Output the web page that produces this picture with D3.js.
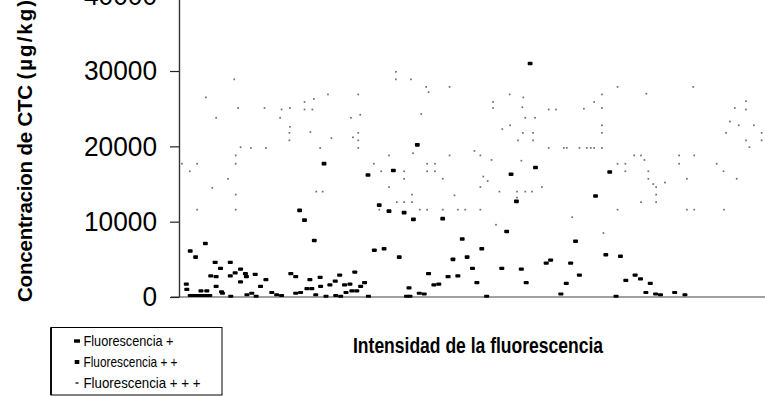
<!DOCTYPE html>
<html>
<head>
<meta charset="utf-8">
<script src="https://cdn.jsdelivr.net/npm/d3@7"></script>
<style>
  html, body { margin: 0; padding: 0; background: #fff; }
  svg { display: block; }
  text { font-family: "Liberation Sans", Arial, sans-serif; }
</style>
</head>
<body>
<script>
// ---------- DATA ----------
const seriesNames = ["Fluorescencia +", "Fluorescencia + +", "Fluorescencia + + +"];
const yTickValues = [0, 10000, 20000, 30000, 40000];
const yTitleParts = ["Concentracion de CTC ", "(µg/kg)"];
const xTitle = "Intensidad de la fluorescencia";

// Fluorescencia + : [sample position, concentration µg/kg]
const serie1 = [
  [1.5,1700],[1.6,1000],[2.3,200],[3.1,200],[3.9,200],[4.7,200],[5.5,200],[6.3,200],
  [4.5,800],[5.7,800],[7.4,4600],[8.5,3800],[6.5,2800],[7.6,2700],[7.6,1400],[8.7,700],
  [8.9,500],[10.5,4600],[10.5,2800],[11.5,3200],[12.6,3700],[13.6,3100],[13.8,2700],
  [12.6,2000],[10.6,100],[15.6,3000],[16.7,1400],[17.8,2300],[13.9,300],[14.9,500],
  [15.8,100],[19,600],[20,300],[21,200],[22.9,3100],[23.9,2700],[23.9,500],[24.9,600],
  [26.2,1100],[27.2,1100],[26.8,2300],[28.9,2600],[28,300],[29,1400],[30.1,100],
  [30.9,1600],[32,2100],[32.9,2900],[32.1,200],[33.1,100],[33.9,1600],[35,1700],
  [36,3300],[34.2,600],[35.4,800],[36.4,800],[37.2,1400],[38,1900],[38.8,100],
  [51.1,3100],[55.1,2700],[57.1,2800],[60.1,3800],[66.1,3800],[70.1,3700],[47.1,1200],
  [52.2,1600],[53.2,1700],[61,1900],[71.1,1900],[75.2,4500],[80.2,4500],[79.3,1800],
  [78.2,400],[46.6,100],[47.3,100],[49.2,500],[50.2,400],[63,100],[82,2900],[91.5,2200],
  [93.4,2900],[94.5,2400],[96.5,1800],[95.6,600],[97.6,400],[98.6,300],[101.5,600],
  [103.6,300],[89.5,100],[76.1,4900]
];

// Fluorescencia + +
const serie2 = [
  [2.3,6100],[3.4,5300],[5.4,7100],[24.7,11500],[25.7,10200],[27.7,7500],[29.7,17700],
  [38.7,16200],[71.9,31000],[48.8,20200],[43.9,16800],[68,16300],[73,17200],[41,12200],
  [43,11400],[46.1,11200],[48,10300],[54,10400],[69.1,12700],[67.1,8700],[58,7700],
  [40,6200],[42,6400],[45.1,5300],[62,6400],[56.1,5000],[59,5300],[81.2,7400],
  [88.2,16600],[85.3,13400],[87.4,5600],[90.4,5400]
];

// Fluorescencia + + +
const serie3 = [
  [11.3,28900],[5.5,26500],[7.6,23800],[12.1,25100],[17.5,25100],[20.7,23800],[21,24900],
  [22.7,25100],[22.7,22600],[22.6,21800],[22.6,20800],[25.7,25900],[25.7,24900],
  [27.6,26300],[27.3,24900],[30.5,26900],[26.9,21900],[31.2,21100],[28.9,19800],
  [35.2,23800],[36.7,26900],[37.1,24200],[35.6,21200],[36.7,21800],[36.7,20800],
  [36.7,19800],[12.6,19900],[14.7,19800],[17.8,19800],[11.6,18800],[11.6,17700],
  [3.7,17700],[0.6,17700],[2.2,16700],[10,15700],[6.8,14500],[11.6,13600],[3.7,11600],
  [11.6,11600],[28.1,14000],[29.4,14000],
  [44.4,29900],[44.4,28900],[47.5,28900],[50.6,27900],[51.1,27200],[55.4,27900],
  [49.6,24300],[43,18800],[47.9,19100],[55.4,18800],[39.9,17700],[41.4,16700],
  [46.1,16700],[50.8,17700],[52.4,17700],[50.8,16700],[52.4,16700],[46.1,15700],
  [54,15700],[43,14600],[47.7,13600],[44.6,12600],[46.1,12600],[47.7,12600],[41,11600],
  [49.3,11600],[50.8,11600],[54,11600],[57.1,11600],[58.6,11600],[61.7,11600],
  [56.4,13500],[60.5,19400],[61.7,18800],[64,18200],[62.3,16000],[63.2,15400],
  [61.7,14600],[65.6,14000],[69.2,14000],[70.9,14000],[72.3,14000],[74.3,14600],
  [69.2,13200],[64.9,9600],[64.3,25900],[64.3,25100],[67.7,26900],[70.3,25200],
  [70.5,26500],[70.9,23800],[72.9,23800],[66.2,22300],[67.8,22800],[70.4,21800],
  [72.5,21800],[69.4,20800],[72.5,20800],[70.1,18100],[75.7,24900],[77.2,24900],
  [75.7,19800],[78.8,19800],[79.4,19800],[82,19800],
  [89.8,27900],[105.3,27900],[95.7,27000],[86.6,26900],[85,25900],[82.9,25000],
  [86.6,25100],[86.6,22800],[86.6,21800],[83.5,19800],[84.3,19800],[85,19800],
  [86.6,19800],[93.2,18800],[94.6,18800],[95.3,18200],[102.4,18800],[105.5,18800],
  [89.8,17700],[91.4,17700],[102.4,17700],[110.1,17700],[91.4,16700],[96.1,16700],
  [111.5,16700],[96.1,15700],[104,15700],[114.2,15700],[97.1,15000],[97.7,14600],
  [99.5,15200],[97.7,13600],[94.6,12600],[97.7,12600],[89.8,11600],[104,11600],
  [105.5,11600],[111.6,11600],[86.9,8500],[116.1,26000],[113.8,25100],[116.1,24900],
  [112.8,23300],[114.6,22800],[117.7,22800],[112,21800],[119.3,21800],[116.1,20800],
  [119.3,20800],[116.8,19900],[80.5,10600]
];

// ---------- CHART ----------
const W = 765, H = 396;
const svg = d3.select("body").append("svg").attr("width", W).attr("height", H);

const x = d3.scaleLinear().domain([0, 120]).range([179, 765]);
const y = d3.scaleLinear().domain([0, 40000]).range([297, -4.3]);

// x axis line (extends a little left of the y axis)
svg.append("line")
  .attr("x1", x(0) - 8).attr("x2", x.range()[1])
  .attr("y1", y(0)).attr("y2", y(0))
  .attr("stroke", "#808080").attr("stroke-width", 1.6);

// y axis
const yAxis = svg.append("g")
  .attr("transform", `translate(${x(0)},0)`)
  .call(d3.axisLeft(y).tickValues(yTickValues).tickSize(9).tickSizeOuter(0).tickPadding(13)
        .tickFormat(d3.format("d")));
yAxis.select(".domain").attr("stroke", "#333").attr("stroke-width", 1.4);
yAxis.selectAll(".tick line").attr("stroke", "#222").attr("stroke-width", 1.2);
yAxis.selectAll(".tick text")
  .attr("fill", "#000")
  .style("font-size", "28px")
  .style("font-family", "'Liberation Sans', Arial, sans-serif")
  .attr("x", -22)
  .attr("textLength", function() { return this.textContent.length * 14.6; })
  .attr("lengthAdjust", "spacingAndGlyphs");

// points
const g = svg.append("g");
g.selectAll("rect.s3").data(serie3).enter().append("rect")
  .attr("class", "s3")
  .attr("x", d => x(d[0]) - 0.8).attr("y", d => y(d[1]) - 0.8)
  .attr("width", 1.7).attr("height", 1.7)
  .attr("fill", "#6e6e6e");
g.selectAll("rect.s1").data(serie1).enter().append("rect")
  .attr("class", "s1")
  .attr("x", d => x(d[0]) - 2.5).attr("y", d => y(d[1]) - 1.6)
  .attr("width", 5).attr("height", 3.2).attr("rx", 0.8)
  .attr("fill", "#000");
g.selectAll("rect.s2").data(serie2).enter().append("rect")
  .attr("class", "s2")
  .attr("x", d => x(d[0]) - 2.4).attr("y", d => y(d[1]) - 1.8)
  .attr("width", 4.8).attr("height", 3.6).attr("rx", 0.8)
  .attr("fill", "#000");

// y title
const yt = svg.append("text")
  .attr("transform", "translate(32,302) rotate(-90)")
  .attr("text-anchor", "start")
  .style("font-size", "20.5px").style("font-weight", "bold")
  .attr("fill", "#000");
yt.append("tspan").style("letter-spacing", "-0.2px").text(yTitleParts[0]);
yt.append("tspan").style("letter-spacing", "2px").text(yTitleParts[1]);

// x title
svg.append("text")
  .attr("x", 353).attr("y", 353)
  .style("font-size", "22px").style("font-weight", "bold")
  .attr("textLength", 250).attr("lengthAdjust", "spacingAndGlyphs")
  .attr("fill", "#000")
  .text(xTitle);

// legend
const lg = svg.append("g");
lg.append("rect")
  .attr("x", 51).attr("y", 327.5).attr("width", 171).attr("height", 67.5)
  .attr("fill", "#fff").attr("stroke", "#000").attr("stroke-width", 1);
lg.append("line").attr("x1", 51).attr("x2", 51).attr("y1", 327.5).attr("y2", 395)
  .attr("stroke", "#000").attr("stroke-width", 1.8);
const legRowsY = [341, 362, 383];
const legLens = [90, 94, 117];
const legMarks = [
  {w: 6, h: 3.4, fill: "#000"},
  {w: 4.6, h: 4, fill: "#000"},
  {w: 3, h: 1.6, fill: "#333"}
];
seriesNames.forEach((name, i) => {
  const m = legMarks[i];
  lg.append("rect")
    .attr("x", 77 - m.w / 2).attr("y", legRowsY[i] - m.h / 2)
    .attr("width", m.w).attr("height", m.h).attr("fill", m.fill);
  lg.append("text")
    .attr("x", 83.5).attr("y", legRowsY[i] + 5.3)
    .style("font-size", "14.5px")
    .attr("textLength", legLens[i]).attr("lengthAdjust", "spacingAndGlyphs")
    .attr("fill", "#000")
    .text(name);
});
</script>
</body>
</html>
